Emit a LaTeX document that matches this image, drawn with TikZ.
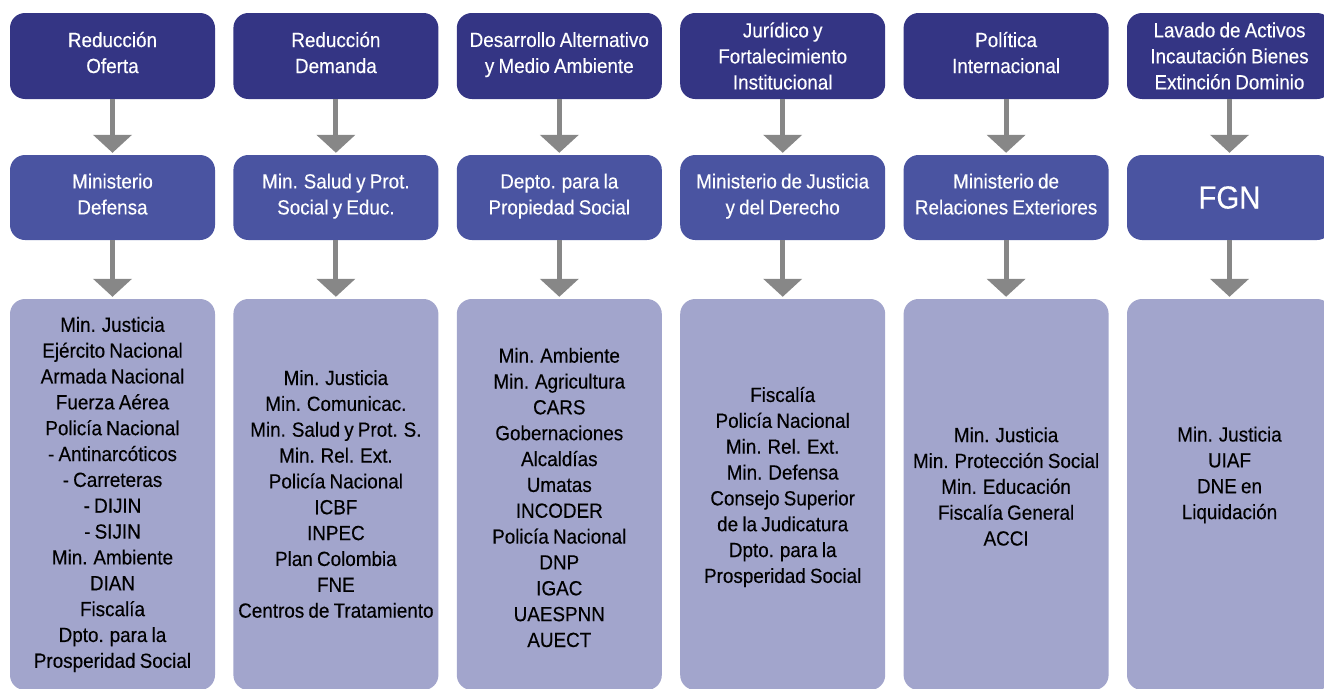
\documentclass[tikz,border=0pt]{standalone}
\usepackage{fontspec}
\setmainfont{Liberation Sans}[FakeStretch=0.92,FakeBold=0.3,WordSpace=0.8]
\usetikzlibrary{arrows.meta}
\definecolor{temaazul}{RGB}{52,53,132}
\definecolor{enteazul}{RGB}{74,84,161}
\definecolor{apoyoazul}{RGB}{162,165,204}
\definecolor{flechagris}{RGB}{135,135,135}
\begin{document}
\begin{tikzpicture}[x=1pt,y=-1pt,
		caja/.style={rounded corners=15pt,minimum width=205pt,inner sep=2pt},
		tema/.style={caja,fill=temaazul,text=white,minimum height=86pt,align=center,font=\fontsize{20.5}{26}\selectfont},
		ente/.style={caja,fill=enteazul,text=white,minimum height=85pt,align=center,font=\fontsize{20.5}{26}\selectfont},
		dos/.style={execute at end node={\vrule width 0pt depth 7pt}},
		apoyo/.style={caja,fill=apoyoazul,minimum height=391pt},
		lista/.style={align=center,text=black,inner sep=0pt,font=\fontsize{20.5}{25.85}\selectfont},
		flecha/.style={draw=flechagris,line width=5pt,-{Triangle[width=38pt,length=18pt]},shorten >=2pt}]
		\def\xa{112.5}
		\def\dx{223.4}
		\def\yt{56}
		\def\ym{197.5}
		\def\yb{494.5}
		%
		\useasboundingbox (0,0) rectangle (1324,688);
		%
		\node[tema,dos] (t1) at (\xa,\yt) {Reducción\\Oferta};
		\node[tema,dos] (t2) at ({\xa+\dx},\yt) {Reducción\\Demanda};
		\node[tema,dos] (t3) at ({\xa+2*\dx},\yt) {Desarrollo Alternativo\\y Medio Ambiente};
		\node[tema] (t4) at ({\xa+3*\dx},\yt) {Jurídico y\\Fortalecimiento\\Institucional};
		\node[tema,dos] (t5) at ({\xa+4*\dx},\yt) {Política\\Internacional};
		\node[tema] (t6) at ({\xa+5*\dx},\yt) {Lavado de Activos\\Incautación Bienes\\Extinción Dominio};
		%
		\node[ente,dos] (m1) at (\xa,\ym) {Ministerio\\Defensa};
		\node[ente,dos] (m2) at ({\xa+\dx},\ym) {Min. Salud y Prot.\\Social y Educ.};
		\node[ente,dos] (m3) at ({\xa+2*\dx},\ym) {Depto. para la\\Propiedad Social};
		\node[ente,dos] (m4) at ({\xa+3*\dx},\ym) {Ministerio de Justicia\\y del Derecho};
		\node[ente,dos] (m5) at ({\xa+4*\dx},\ym) {Ministerio de\\Relaciones Exteriores};
		\node[ente,font=\fontsize{32}{38}\selectfont] (m6) at ({\xa+5*\dx},\ym) {FGN};
		%
		\node[apoyo] (b1) at (\xa,\yb) {};
		\node[apoyo] (b2) at ({\xa+\dx},\yb) {};
		\node[apoyo] (b3) at ({\xa+2*\dx},\yb) {};
		\node[apoyo] (b4) at ({\xa+3*\dx},\yb) {};
		\node[apoyo] (b5) at ({\xa+4*\dx},\yb) {};
		\node[apoyo] (b6) at ({\xa+5*\dx},\yb) {};
		%
		\node[lista] (l1) at (b1.center) {Min. Justicia\\Ejército Nacional\\Armada Nacional\\Fuerza Aérea\\Policía Nacional\\- Antinarcóticos\\- Carreteras\\- DIJIN\\- SIJIN\\Min. Ambiente\\DIAN\\Fiscalía\\Dpto. para la\\Prosperidad Social};
		\node[lista] (l2) at ([yshift=0.5pt]b2.center) {Min. Justicia\\Min. Comunicac.\\Min. Salud y Prot. S.\\Min. Rel. Ext.\\Policía Nacional\\ICBF\\INPEC\\Plan Colombia\\FNE\\Centros de Tratamiento};
		\node[lista] (l3) at ([yshift=-3pt]b3.center) {Min. Ambiente\\Min. Agricultura\\CARS\\Gobernaciones\\Alcaldías\\Umatas\\INCODER\\Policía Nacional\\DNP\\IGAC\\UAESPNN\\AUECT};
		\node[lista] (l4) at ([yshift=7.5pt]b4.center) {Fiscalía\\Policía Nacional\\Min. Rel. Ext.\\Min. Defensa\\Consejo Superior\\de la Judicatura\\Dpto. para la\\Prosperidad Social};
		\node[lista] (l5) at ([yshift=8pt]b5.center) {Min. Justicia\\Min. Protección Social\\Min. Educación\\Fiscalía General\\ACCI};
		\node[lista] (l6) at ([yshift=19.5pt]b6.center) {Min. Justicia\\UIAF\\DNE en\\Liquidación};
		%
		\draw[flecha] (t1) -- (m1);
		\draw[flecha] (t2) -- (m2);
		\draw[flecha] (t3) -- (m3);
		\draw[flecha] (t4) -- (m4);
		\draw[flecha] (t5) -- (m5);
		\draw[flecha] (t6) -- (m6);
		%
		\draw[flecha] (m1) -- (b1);
		\draw[flecha] (m2) -- (b2);
		\draw[flecha] (m3) -- (b3);
		\draw[flecha] (m4) -- (b4);
		\draw[flecha] (m5) -- (b5);
		\draw[flecha] (m6) -- (b6);
	\end{tikzpicture}
\end{document}
